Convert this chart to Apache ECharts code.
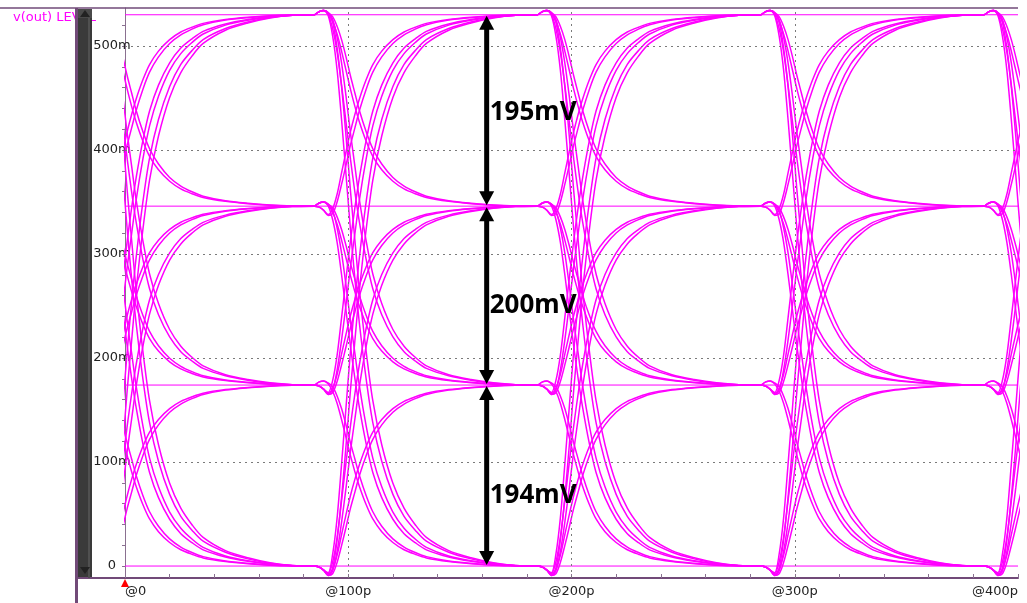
<!DOCTYPE html>
<html><head><meta charset="utf-8">
<script src="https://cdn.jsdelivr.net/npm/echarts@6/dist/echarts.min.js"></script>
<style>html,body{margin:0;padding:0;background:#fff}#c{width:1027px;height:603px}</style>
</head><body><div id="c"></div>
<script>
// ---- data ----
const levels = [0, 174, 346, 530];                       // mV, PAM4 levels
const xTickValues = [0, 100, 200, 300, 400];            // ps
const xTickLabels = ['@0', '@100p', '@200p', '@300p', '@400p'];
const yTickValues = [0, 100, 200, 300, 400, 500];       // mV
const yTickLabels = ['0', '100m', '200m', '300m', '400m', '500m'];
const yMinorTicks = [0,20,40,60,80,100,120,140,160,180,200,220,240,260,280,300,320,340,360,380,400,420,440,460,480,500,520];
const segStarts = [-15, 85, 185, 285, 385];            // ps, start of each transition segment
const tauPs  = [0, 2, 4, 6, 8, 10, 12, 14, 16, 18, 20, 23, 26, 30, 35, 40, 45, 50, 60, 70, 80, 90, 100];
const progA  = [0, 0, 0, 0.005, 0.04, 0.10, 0.19, 0.29, 0.39, 0.48, 0.56, 0.66, 0.74, 0.81, 0.87, 0.91, 0.935, 0.955, 0.975, 0.987, 0.995, 0.999, 1];
const progB  = [0, 0, 0, 0, 0.015, 0.06, 0.13, 0.22, 0.32, 0.41, 0.50, 0.61, 0.70, 0.78, 0.85, 0.895, 0.925, 0.948, 0.972, 0.985, 0.994, 0.999, 1];
const kickRise = [0, 1, 4, 9, 10, 7, 3, 1, 0, 0, 0, 0, 0, 0, 0, 0, 0, 0, 0, 0, 0, 0, 0];   // mV, dip before a rise
const kickFall = [0, 3, 4, 2, 1, 0, 0, 0, 0, 0, 0, 0, 0, 0, 0, 0, 0, 0, 0, 0, 0, 0, 0];    // mV, bump before a fall
const arrowT = [162, 162, 162];
const arrowFrom = [530, 346, 174];
const arrowTo = [346, 174, 0];
const arrowText = ['195mV', '200mV', '194mV'];
const arrowTextV = [436, 250, 68];

// ---- chart ----
const MAG = '#ff00ff', FRAME = '#714a78', AX = '#8a7090';
const chart = echarts.init(document.getElementById('c'), null, {renderer: 'canvas'});
const series = [];
// grid lines
series.push({
  type: 'line', data: [], silent: true, z: 1,
  markLine: {
    silent: true, symbol: 'none', animation: false,
    label: {show: false},
    lineStyle: {color: '#7a7a7a', type: [2, 4], width: 1},
    data: yTickValues.filter(v => v > 0).map(v => ({yAxis: v}))
      .concat(xTickValues.filter(v => v > 0 && v < 400).map(v => ({xAxis: v})))
  }
});
// level lines
levels.forEach(L => series.push({
  type: 'line', data: [[0, L], [400, L]], symbol: 'none', z: 3, silent: true,
  lineStyle: {color: MAG, width: 1}
}));
// transitions
const progs = [progA, progB];
segStarts.forEach(s => {
  levels.forEach(a => {
    levels.forEach(b => {
      if (a === b) return;
      const rise = b > a;
      const kick = rise ? kickRise : kickFall;
      progs.forEach(p => {
        series.push({
          type: 'line', symbol: 'none', smooth: 0.3, silent: true, z: 3, clip: true,
          lineStyle: {color: MAG, width: 1.5},
          data: tauPs.map((t, i) => [s + t, a + (b - a) * p[i] + (rise ? -kick[i] : kick[i])])
        });
      });
    });
  });
});
// arrows + labels
series.push({
  type: 'custom', z: 10, clip: false, silent: true,
  encode: {x: 0, y: [1, 2, 3]},
  data: arrowT.map((t, i) => [t, arrowFrom[i], arrowTo[i], arrowTextV[i]]),
  renderItem: (params, api) => {
    const i = params.dataIndex;
    const p1 = api.coord([api.value(0), api.value(1)]);
    const p2 = api.coord([api.value(0), api.value(2)]);
    const pt = api.coord([api.value(0), api.value(3)]);
    const x = p1[0], top = Math.min(p1[1], p2[1]) + 1, bot = Math.max(p1[1], p2[1]) - 1;
    const hw = 7.5, hh = 14;
    return {
      type: 'group',
      children: [
        {type: 'line', shape: {x1: x, y1: top + hh - 2, x2: x, y2: bot - hh + 2}, style: {stroke: '#000', lineWidth: 5}},
        {type: 'polygon', shape: {points: [[x, top], [x - hw, top + hh], [x + hw, top + hh]]}, style: {fill: '#000'}},
        {type: 'polygon', shape: {points: [[x, bot], [x - hw, bot - hh], [x + hw, bot - hh]]}, style: {fill: '#000'}},
        {type: 'text', style: {text: arrowText[i], x: x + 3, y: pt[1], verticalAlign: 'middle', align: 'left',
          fontSize: 26, fontWeight: 'bold', fontFamily: 'Noto Sans', fill: '#000'}}
      ]
    };
  }
});

chart.setOption({
  animation: false,
  backgroundColor: '#fff',
  grid: {left: 125, right: 9, top: 8, bottom: 25, containLabel: false},
  xAxis: {
    type: 'value', min: 0, max: 400, interval: 100,
    axisLine: {show: true, onZero: false, lineStyle: {color: FRAME, width: 2}},
    axisTick: {show: true, inside: true, length: 4, lineStyle: {color: AX}},
    minorTick: {show: true, splitNumber: 5, length: 4, lineStyle: {color: AX}},
    splitLine: {show: false},
    axisLabel: {
      margin: 7, color: '#222', fontSize: 13, fontFamily: 'DejaVu Sans',
      alignMinLabel: 'left', alignMaxLabel: 'right',
      formatter: v => xTickLabels[xTickValues.indexOf(v)] || ''
    }
  },
  yAxis: {
    type: 'value', min: -11.5, max: 536.5,
    axisLine: {show: true, onZero: false, lineStyle: {color: AX, width: 1}},
    axisTick: {show: true, inside: false, length: 3, customValues: yMinorTicks, lineStyle: {color: AX}},
    splitLine: {show: false},
    axisLabel: {
      customValues: yTickValues, margin: 13, align: 'center',
      color: '#222', fontSize: 13, fontFamily: 'DejaVu Sans',
      formatter: v => yTickLabels[yTickValues.indexOf(v)] || ''
    }
  },
  series: series
});

const x0 = chart.convertToPixel({xAxisIndex: 0}, 0);
const yb = chart.convertToPixel({yAxisIndex: 0}, -11.5);
chart.setOption({
  graphic: [
    {type: 'text', z: 50, style: {text: 'v(out) LEVEL', x: 13, y: 18, verticalAlign: 'middle', fontSize: 13, fontFamily: 'DejaVu Sans', fill: MAG}},
    {type: 'line', z: 60, shape: {x1: 0, y1: 8, x2: 1018, y2: 8}, style: {stroke: FRAME, lineWidth: 1.5}},
    {type: 'rect', z: 60, shape: {x: 75, y: 8, width: 3, height: 595}, style: {fill: FRAME}},
    {type: 'rect', z: 60, shape: {x: 78, y: 9, width: 14, height: yb - 9}, style: {fill: '#3a3a3a'}},
    {type: 'rect', z: 61, shape: {x: 88, y: 9, width: 2, height: yb - 9}, style: {fill: '#505050'}},
    {type: 'rect', z: 61, shape: {x: 78, y: 9, width: 14, height: 9}, style: {fill: '#4a4a4a'}},
    {type: 'polygon', z: 62, shape: {points: [[80, 17], [85, 10], [90, 17]]}, style: {fill: '#222'}},
    {type: 'polygon', z: 62, shape: {points: [[80, yb - 11], [85, yb - 4], [90, yb - 11]]}, style: {fill: '#222'}},
    {type: 'line', z: 60, shape: {x1: 78, y1: yb, x2: x0, y2: yb}, style: {stroke: FRAME, lineWidth: 2}},
    {type: 'polygon', z: 62, shape: {points: [[x0 - 4, yb + 9], [x0, yb + 1], [x0 + 4, yb + 9]]}, style: {fill: '#ff0000'}}
  ]
});
</script>
</body></html>
